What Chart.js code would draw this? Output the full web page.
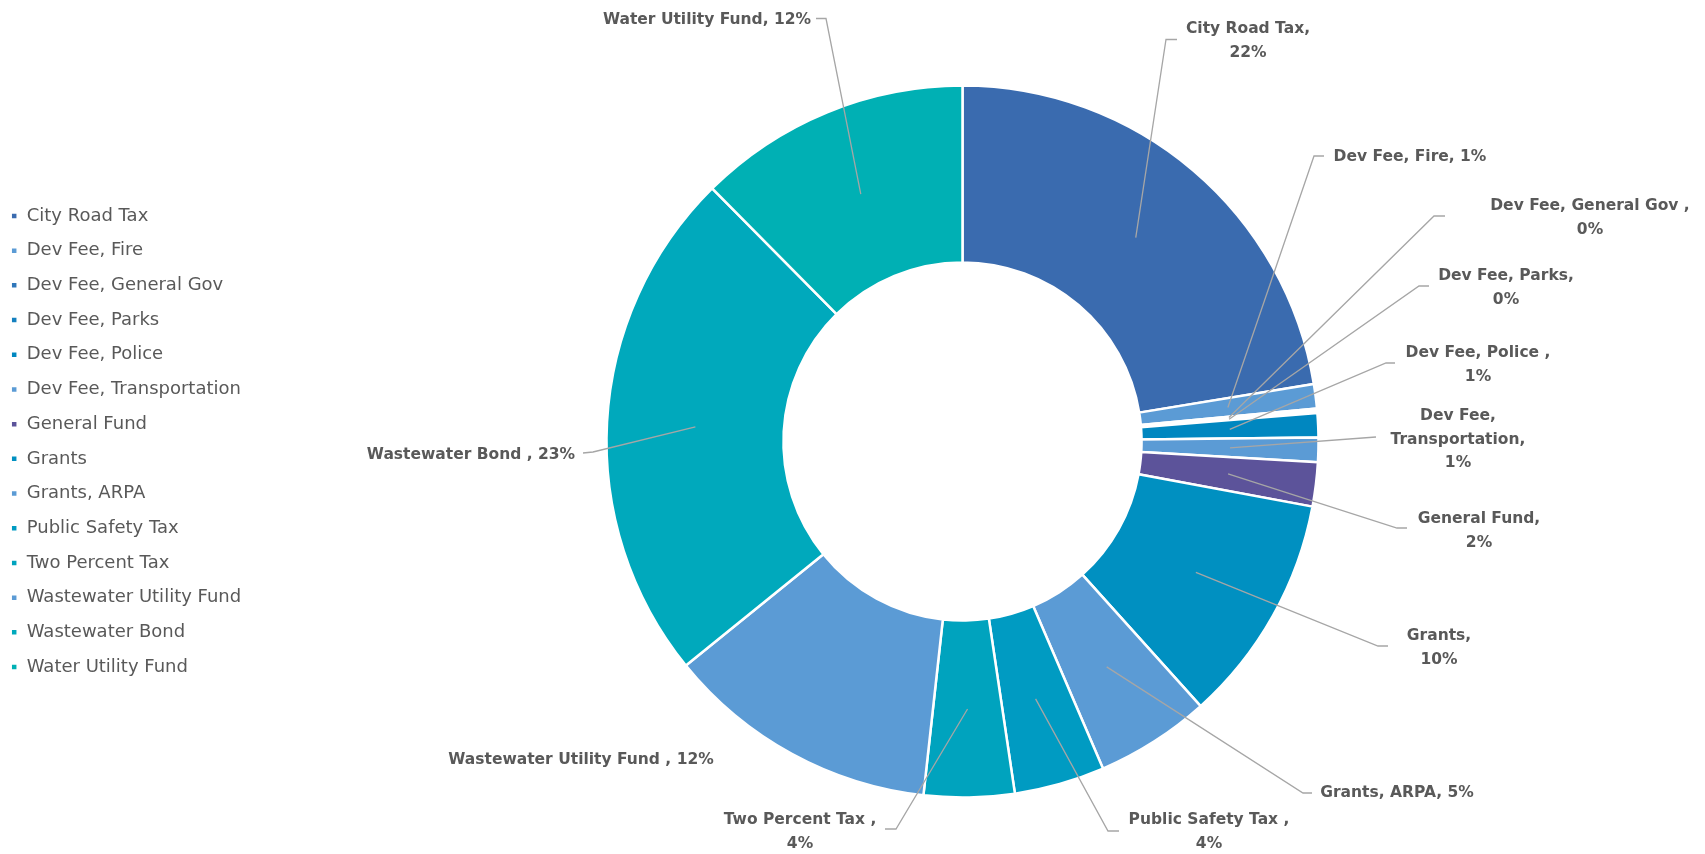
<!DOCTYPE html>
<html lang="en">
<head>
    <meta charset="UTF-8">
    <title>Funding Sources</title>
    <script src="https://cdn.jsdelivr.net/npm/chart.js"></script>
    <style>
        html, body {
            margin: 0;
            padding: 0;
            background-color: #ffffff;
        }
        canvas {
            display: block;
        }
    </style>
</head>
<body>
    <canvas id="fundChart" width="1705" height="854"></canvas>

    <script>
        // Funding sources, in percent of the total
        const categories = [
            'City Road Tax', 'Dev Fee, Fire', 'Dev Fee, General Gov ', 'Dev Fee, Parks',
            'Dev Fee, Police ', 'Dev Fee, Transportation', 'General Fund', 'Grants',
            'Grants, ARPA', 'Public Safety Tax ', 'Two Percent Tax ', 'Wastewater Utility Fund ',
            'Wastewater Bond ', 'Water Utility Fund'
        ];
        const shares = [22.4, 1.1, 0.1, 0.1, 1.1, 1.1, 2.0, 10.4, 5.2, 4.1, 4.1, 12.4, 23.4, 12.4];

        const sliceColors = [
            '#3a6baf', '#5b9bd5', '#2f77ba', '#1480bf', '#0087c0', '#5b9bd5', '#5c539a',
            '#0090c1', '#5b9bd5', '#009bc2', '#00a3be', '#5b9bd5', '#00a9bc', '#00b0b4'
        ];

        // Where each data label sits: text centre, line wrapping, leader elbow and tick end
        // wrap: 1 = one line, 2 = name / percent, 3 = name split at commas / percent
        const labelLayout = [
            { x: 1248, y: 29,  wrap: 2, elbow: [1166, 39.5], tick: [1177, 39.5] },
            { x: 1410, y: 157, wrap: 1, elbow: [1314, 156],  tick: [1324, 156] },
            { x: 1590, y: 206, wrap: 2, elbow: [1434, 216],  tick: [1445, 216] },
            { x: 1506, y: 276, wrap: 2, elbow: [1419, 286],  tick: [1429, 286] },
            { x: 1478, y: 353, wrap: 2, elbow: [1386, 363],  tick: [1395, 363] },
            { x: 1458, y: 416, wrap: 3, elbow: [1376, 437],  tick: [1376, 437] },
            { x: 1479, y: 519, wrap: 2, elbow: [1397, 528],  tick: [1407, 528] },
            { x: 1439, y: 636, wrap: 2, elbow: [1378, 646],  tick: [1388, 646] },
            { x: 1397, y: 793, wrap: 1, elbow: [1303, 793],  tick: [1312, 793] },
            { x: 1209, y: 820, wrap: 2, elbow: [1108, 831],  tick: [1119, 831] },
            { x: 800,  y: 820, wrap: 2, elbow: [896, 829],   tick: [885, 829] },
            { x: 581,  y: 760, wrap: 1, elbow: null,         tick: null },
            { x: 471,  y: 455, wrap: 1, elbow: [593, 452],   tick: [583, 453] },
            { x: 707,  y: 19.5, wrap: 1, elbow: [826, 18.5], tick: [816, 18.5] }
        ];

        const textColor = '#595959';
        const leaderColor = '#a6a6a6';
        const fontFamily = '"DejaVu Sans", "Open Sans", sans-serif';

        const labelLines = (name, pct, wrap) => {
            if (wrap === 1) return [name + ', ' + pct + '%'];
            if (wrap === 2) return [name + ',', pct + '%'];
            return name.split(', ').map(part => part + ',').concat([pct + '%']);
        };

        // Keeps the legend column a fixed width so the ring sits where it should
        const legendWidth = {
            id: 'legendWidth',
            beforeInit(chart) {
                const fit = chart.legend.fit;
                chart.legend.fit = function () {
                    fit.call(this);
                    this.width = 250;
                };
            }
        };

        // Data labels with leader lines drawn from the middle of each ring segment
        const sliceLabels = {
            id: 'sliceLabels',
            afterDatasetsDraw(chart) {
                const ctx = chart.ctx;
                const meta = chart.getDatasetMeta(0);
                const data = chart.data.datasets[0].data;
                const total = data.reduce((a, b) => a + b, 0);
                ctx.save();
                meta.data.forEach((arc, i) => {
                    const p = arc.getProps(['x', 'y', 'startAngle', 'endAngle', 'innerRadius', 'outerRadius'], true);
                    const mid = (p.startAngle + p.endAngle) / 2;
                    const r = (p.innerRadius + p.outerRadius) / 2;
                    const ax = p.x + Math.cos(mid) * r;
                    const ay = p.y + Math.sin(mid) * r;
                    const lay = labelLayout[i];

                    if (lay.elbow) {
                        ctx.strokeStyle = leaderColor;
                        ctx.lineWidth = 1.3;
                        ctx.beginPath();
                        ctx.moveTo(ax, ay);
                        ctx.lineTo(lay.elbow[0], lay.elbow[1]);
                        ctx.lineTo(lay.tick[0], lay.tick[1]);
                        ctx.stroke();
                    }

                    const pct = Math.round(data[i] / total * 100);
                    const lines = labelLines(chart.data.labels[i], pct, lay.wrap);
                    ctx.fillStyle = textColor;
                    ctx.font = 'bold 15.5px ' + fontFamily;
                    ctx.textAlign = 'center';
                    ctx.textBaseline = 'middle';
                    lines.forEach((line, k) => {
                        ctx.fillText(line, lay.x, lay.y + k * 23.5);
                    });
                });
                ctx.restore();
            }
        };

        new Chart(document.getElementById('fundChart'), {
            type: 'doughnut',
            data: {
                labels: categories,
                datasets: [{
                    data: shares,
                    backgroundColor: sliceColors,
                    borderColor: '#ffffff',
                    borderWidth: 2.5,
                    hoverOffset: 0
                }]
            },
            options: {
                responsive: false,
                animation: false,
                devicePixelRatio: 1,
                radius: 356,
                cutout: '50.3%',
                layout: {
                    padding: { left: -6, right: 24, top: 70, bottom: 41 }
                },
                plugins: {
                    legend: {
                        position: 'left',
                        labels: {
                            boxWidth: 7,
                            boxHeight: 7,
                            padding: 16.7,
                            color: textColor,
                            font: { family: fontFamily, size: 18 }
                        }
                    },
                    tooltip: { enabled: false }
                }
            },
            plugins: [legendWidth, sliceLabels]
        });
    </script>
</body>
</html>
